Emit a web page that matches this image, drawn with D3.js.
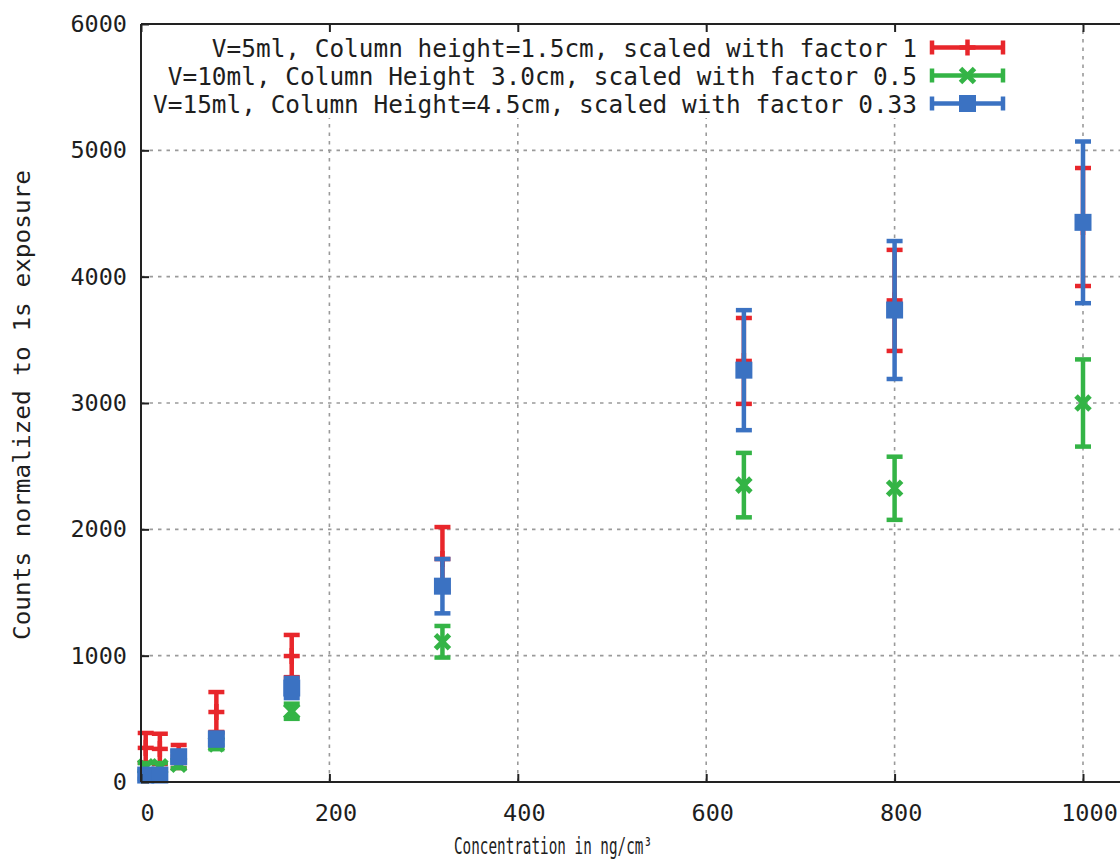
<!DOCTYPE html>
<html>
<head>
<meta charset="utf-8">
<script src="https://cdn.jsdelivr.net/npm/d3@7"></script>
<style>
  html, body { margin: 0; padding: 0; background: #fff; }
  svg { display: block; }
  text { font-family: "DejaVu Sans Mono", "Liberation Mono", monospace; fill: #1e1e1e; }
</style>
</head>
<body>
<svg id="chart" width="1120" height="867"></svg>
<script>
// ---- data ----
const concentrations = [5, 20, 40, 80, 160, 320, 640, 800, 1000];
const redValues   = [270, 262, 202, 554, 997, 1765, 3333, 3812, 4393];
const redErrors   = [118, 120, 91, 158, 167, 253, 340, 400, 467];
const greenValues = [120, 120, 140, 300, 560, 1110, 2350, 2325, 3000];
const greenErrors = [30, 30, 30, 40, 60, 125, 255, 250, 345];
const blueValues  = [55, 55, 200, 340, 744, 1550, 3260, 3736, 4430];
const blueErrors  = [30, 30, 45, 50, 80, 215, 475, 546, 640];
const seriesLabels = [
  "V=5ml, Column height=1.5cm, scaled with factor 1",
  "V=10ml, Column Height 3.0cm, scaled with factor 0.5",
  "V=15ml, Column Height=4.5cm, scaled with factor 0.33"
];
const xTicks = [0, 200, 400, 600, 800, 1000];
const yTicks = [0, 1000, 2000, 3000, 4000, 5000, 6000];
const xTitle = "Concentration in ng/cm³";
const yTitle = "Counts normalized to 1s exposure";

const series = [
  {label: seriesLabels[0], values: redValues, errors: redErrors, color: "#e8262b", marker: "plus"},
  {label: seriesLabels[1], values: greenValues, errors: greenErrors, color: "#34b446", marker: "cross"},
  {label: seriesLabels[2], values: blueValues, errors: blueErrors, color: "#3b72c2", marker: "square"}
];

// ---- layout ----
const padL = 141, padB = 782, padT = 24;
const x = d3.scaleLinear().domain([0, 1200]).range([padL, padL + 1130.4]);
const y = d3.scaleLinear().domain([0, 6000]).range([padB, padT]);
const padR = x(1200);

const svg = d3.select("#chart");
svg.append("rect").attr("width", 1120).attr("height", 867).attr("fill", "#fff");

// grid
const grid = svg.append("g").attr("stroke", "#9a9a9a").attr("stroke-width", 1.6)
  .attr("stroke-dasharray", "3.5,5");
grid.selectAll("line.gx").data(xTicks.filter(d => d > 0)).join("line")
  .attr("class", "gx")
  .attr("x1", d => x(d)).attr("x2", d => x(d)).attr("y1", padB).attr("y2", padT);
grid.selectAll("line.gy").data(yTicks.filter(d => d > 0 && d < 6000)).join("line")
  .attr("class", "gy")
  .attr("x1", padL).attr("x2", padR).attr("y1", d => y(d)).attr("y2", d => y(d));

// key background (opaque)
svg.append("rect").attr("x", padL + 3).attr("y", padT + 4).attr("width", 866).attr("height", 90)
  .attr("fill", "#fff");

// series
const capW = 16, sw = 4.5, mk = 16;
function drawMarker(g, type, cx, cy, color) {
  if (type === "plus") {
    g.append("line").attr("x1", cx - mk/2).attr("x2", cx + mk/2).attr("y1", cy).attr("y2", cy)
      .attr("stroke", color).attr("stroke-width", sw);
    g.append("line").attr("x1", cx).attr("x2", cx).attr("y1", cy - mk/2).attr("y2", cy + mk/2)
      .attr("stroke", color).attr("stroke-width", sw);
  } else if (type === "cross") {
    g.append("line").attr("x1", cx - mk/2 + 1).attr("x2", cx + mk/2 - 1).attr("y1", cy - mk/2 + 1).attr("y2", cy + mk/2 - 1)
      .attr("stroke", color).attr("stroke-width", sw + 0.5);
    g.append("line").attr("x1", cx - mk/2 + 1).attr("x2", cx + mk/2 - 1).attr("y1", cy + mk/2 - 1).attr("y2", cy - mk/2 + 1)
      .attr("stroke", color).attr("stroke-width", sw + 0.5);
  } else {
    g.append("rect").attr("x", cx - mk/2 - 0.5).attr("y", cy - mk/2 - 0.5).attr("width", mk + 1).attr("height", mk + 1)
      .attr("fill", color);
  }
}

series.forEach(s => {
  const g = svg.append("g");
  concentrations.forEach((c, i) => {
    const cx = x(c), v = s.values[i], e = s.errors[i];
    const y1 = y(v - e), y2 = y(v + e);
    g.append("line").attr("x1", cx).attr("x2", cx).attr("y1", y1).attr("y2", y2)
      .attr("stroke", s.color).attr("stroke-width", sw);
    [y1, y2].forEach(yy => g.append("line")
      .attr("x1", cx - capW/2).attr("x2", cx + capW/2).attr("y1", yy).attr("y2", yy)
      .attr("stroke", s.color).attr("stroke-width", sw));
    drawMarker(g, s.marker, cx, y(v), s.color);
  });
});

// border
svg.append("line").attr("x1", padL).attr("x2", padR).attr("y1", padT).attr("y2", padT)
  .attr("stroke", "#222").attr("stroke-width", 2);
svg.append("line").attr("x1", padL).attr("x2", padR).attr("y1", padB).attr("y2", padB)
  .attr("stroke", "#222").attr("stroke-width", 2);
svg.append("line").attr("x1", padL).attr("x2", padL).attr("y1", padT).attr("y2", padB)
  .attr("stroke", "#222").attr("stroke-width", 2);

// axes
const xAxis = svg.append("g").attr("transform", `translate(0,${padB})`)
  .call(d3.axisBottom(x).tickValues(xTicks).tickSize(-8).tickPadding(22).tickFormat(d3.format("d")));
const xTop = svg.append("g").attr("transform", `translate(0,${padT})`)
  .call(d3.axisTop(x).tickValues(xTicks).tickSize(-8).tickFormat(""));
const yAxis = svg.append("g").attr("transform", `translate(${padL},0)`)
  .call(d3.axisLeft(y).tickValues(yTicks).tickSize(-8).tickPadding(14).tickFormat(d3.format("d")));
[xAxis, xTop, yAxis].forEach(a => {
  a.select(".domain").remove();
  a.selectAll(".tick line").attr("stroke", "#222").attr("stroke-width", 2);
  a.selectAll("text").attr("font-size", 23.5).attr("font-family", "DejaVu Sans Mono").attr("fill", "#1e1e1e");
});
xAxis.selectAll("text").attr("dx", 6);

// titles
svg.append("text").attr("x", 553).attr("y", 854).attr("text-anchor", "middle")
  .attr("font-size", 23.5).attr("textLength", 198).attr("lengthAdjust", "spacingAndGlyphs")
  .text(xTitle);
svg.append("text").attr("transform", "translate(30,405) rotate(-90)").attr("text-anchor", "middle")
  .attr("font-size", 23.5).attr("textLength", 470).attr("lengthAdjust", "spacingAndGlyphs")
  .text(yTitle);

// legend
const legendY = [57, 85, 113];
series.forEach((s, i) => {
  const by = legendY[i];
  svg.append("text").attr("x", 917).attr("y", by).attr("text-anchor", "end")
    .attr("font-size", 24).attr("textLength", 14.69 * s.label.length).attr("lengthAdjust", "spacingAndGlyphs")
    .text(s.label);
  const cy = by - 9.5, g = svg.append("g");
  g.append("line").attr("x1", 932).attr("x2", 1003).attr("y1", cy).attr("y2", cy)
    .attr("stroke", s.color).attr("stroke-width", sw);
  [932, 1003].forEach(xx => g.append("line").attr("x1", xx).attr("x2", xx)
    .attr("y1", cy - 7).attr("y2", cy + 7).attr("stroke", s.color).attr("stroke-width", sw));
  drawMarker(g, s.marker, 967.5, cy, s.color);
});
</script>
</body>
</html>
